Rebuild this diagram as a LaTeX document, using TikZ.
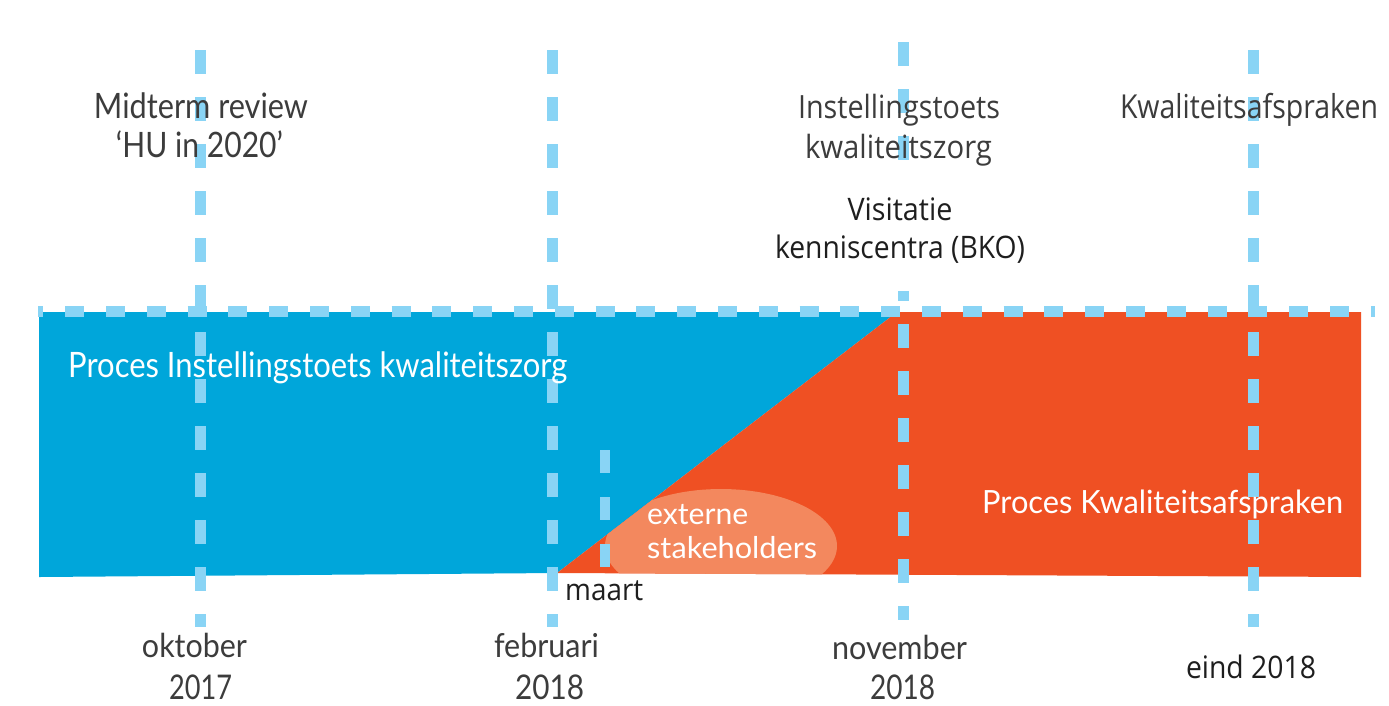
\documentclass[tikz,border=0pt]{standalone}
\usepackage{fontspec}
\usepackage{graphicx}
\setmainfont{Lato}
\newfontfamily\segoe{Open Sans}
\definecolor{hublue}{RGB}{0,166,218}
\definecolor{huorange}{RGB}{239,80,35}
\definecolor{hulight}{RGB}{243,136,94}
\definecolor{dashblue}{RGB}{137,212,245}
\definecolor{txtgray}{RGB}{60,60,60}
\definecolor{txtdark}{RGB}{30,30,30}
\newcommand\fw[3]{\resizebox{#1pt}{\height}{\fontsize{#2}{#2}\selectfont #3}}
\tikzset{
  vdash/.style={draw=dashblue, line width=11pt, dash pattern=on 23.5pt off 23.5pt},
  hdash/.style={draw=dashblue, line width=11pt, dash pattern=on 19pt off 21.8pt, dash phase=13.6pt},
  lbl/.style={inner sep=0pt, text=txtgray},
  lbls/.style={inner sep=0pt, text=txtgray, font=\segoe},
  lbld/.style={inner sep=0pt, text=txtdark, font=\segoe},
  wlbl/.style={inner sep=0pt, text=white}
}
\begin{document}
\begin{tikzpicture}[x=1pt, y=-1pt]
\useasboundingbox[fill=white] (0,0) rectangle (1389,705);
% regions
\coordinate (bl) at (39,577);
\coordinate (tl) at (39,312);
\coordinate (dt) at (897,312);
\coordinate (db) at (557,573);
\coordinate (tr) at (1361,312);
\coordinate (br) at (1361,577);
\fill[hublue] (tl) -- (dt) -- (db) -- (bl) -- cycle;
\fill[huorange] (dt) -- (tr) -- (br) -- (db) -- cycle;
\begin{scope}
  \clip (dt) -- (tr) -- (br) -- (db) -- cycle;
  \fill[hulight] (721,546) ellipse [x radius=116, y radius=57];
\end{scope}
% dashed lines
\coordinate (h0) at (38,311);
\coordinate (h1) at (1375,311);
\draw[hdash] (h0) -- (h1);
\coordinate (v1a) at (200,50);  \coordinate (v1b) at (200,627);
\coordinate (v2a) at (552,50);  \coordinate (v2b) at (552,627);
\coordinate (v3a) at (903,42);  \coordinate (v3b) at (903,620);
\coordinate (v4a) at (1253,50); \coordinate (v4b) at (1253,627);
\coordinate (v5a) at (605,450); \coordinate (v5b) at (605,568);
\draw[vdash] (v1a) -- (v1b);
\draw[vdash] (v2a) -- (v2b);
\draw[vdash] (v3a) -- (v3b);
\draw[vdash] (v4a) -- (v4b);
\draw[draw=dashblue, line width=10pt, dash pattern=on 23pt off 24pt] (v5a) -- (v5b);
% white box behind Visitatie
\fill[white] (770,172) rectangle (1032,291);
% top labels
\node[lbl, anchor=base] (mid1) at (201,118) {\fw{214}{35}{Midterm review}};
\node[lbl, anchor=base] (mid2) at (199.5,157) {\fw{167}{35}{‘HU in 2020’}};
\node[lbls, anchor=base] (ins1) at (899,118) {\fw{202}{32}{Instellingstoets}};
\node[lbls, anchor=base] (ins2) at (898.5,158) {\fw{187}{32}{kwaliteitszorg}};
\node[lbld, anchor=base] (vis1) at (900,220) {\fw{105}{31}{Visitatie}};
\node[lbld, anchor=base] (vis2) at (900,258) {\fw{250}{31}{kenniscentra (BKO)}};
\node[lbls, anchor=base] (kwa) at (1249,118) {\fw{258}{33}{Kwaliteitsafspraken}};
% region labels
\node[wlbl, anchor=base west] (pik) at (68,377) {\fw{499}{35}{Proces Instellingstoets kwaliteitszorg}};
\node[wlbl, anchor=base west] (pka) at (982,513) {\fw{361}{32}{Proces Kwaliteitsafspraken}};
\node[wlbl, anchor=base west] (ext1) at (647,524) {\fw{101}{30}{externe}};
\node[wlbl, anchor=base west] (ext2) at (647,558) {\fw{170}{30}{stakeholders}};
\node[lbld, anchor=base west] (maart) at (565,600) {\fw{78}{30}{maart}};
% bottom labels
\node[lbl, anchor=base] (okt1) at (194.5,657) {\fw{105}{33}{oktober}};
\node[lbl, anchor=base] (okt2) at (200.5,699) {\fw{63}{34}{2017}};
\node[lbl, anchor=base] (feb1) at (546.5,657) {\fw{105}{33}{februari}};
\node[lbl, anchor=base] (feb2) at (549.5,699) {\fw{69}{34}{2018}};
\node[lbl, anchor=base] (nov1) at (899.5,659) {\fw{135}{33}{november}};
\node[lbl, anchor=base] (nov2) at (902.5,699) {\fw{65}{34}{2018}};
\node[lbld, anchor=base] (eind) at (1251,678) {\fw{130}{31}{eind 2018}};
\end{tikzpicture}
\end{document}
